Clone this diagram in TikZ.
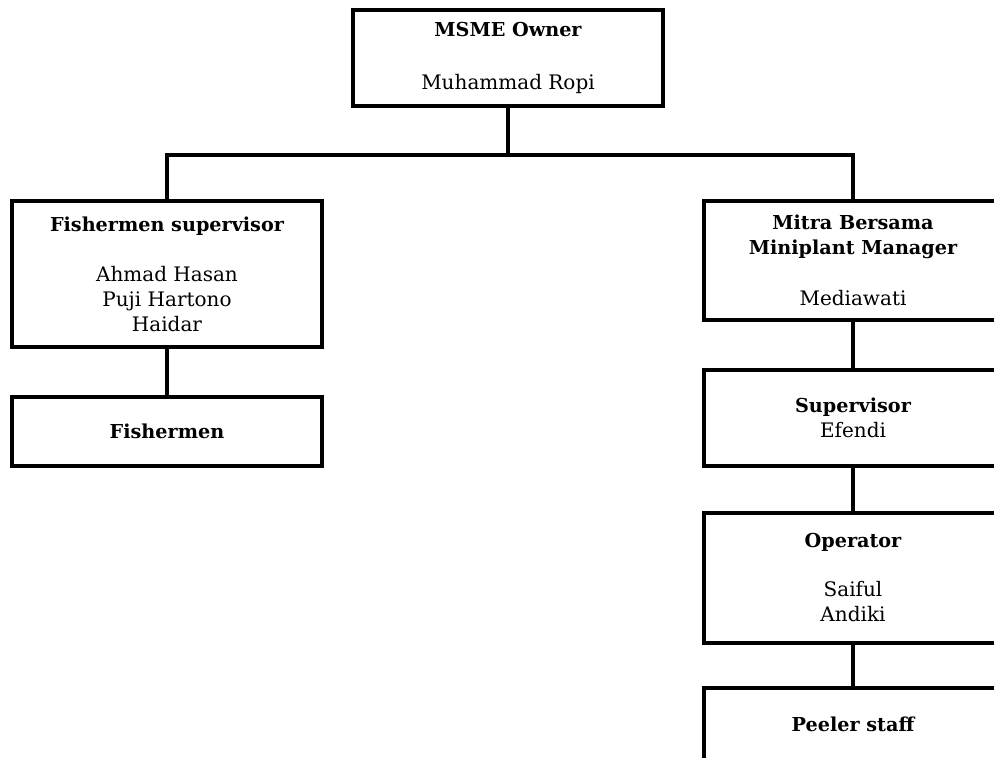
\documentclass[tikz,border=0pt]{standalone}
\usepackage{fontspec}
\setmainfont{DejaVu Serif}
% bold headings are set a touch smaller than the names
\newcommand{\headtxt}[1]{{\fontsize{19.2}{25}\selectfont\bfseries #1}}
\begin{document}
\begin{tikzpicture}[x=1pt,y=-1pt,
  orgbox/.style={draw=black, line width=4pt, fill=white, inner sep=0pt, outer sep=0pt,
    align=center, font=\fontsize{20}{25}\selectfont},
  link/.style={draw=black, line width=4pt}]
\useasboundingbox (0,0) rectangle (994,758);
\clip (0,0) rectangle (994,758);

% top of the hierarchy
\node[orgbox, minimum width=310pt, minimum height=96pt] (owner) at (508,58)
  {\headtxt{MSME Owner}\\[28pt]Muhammad Ropi};

% left branch
\node[orgbox, minimum width=310pt, minimum height=146pt] (fsup) at (167,274)
  {\headtxt{Fishermen supervisor}\\[25pt]Ahmad Hasan\\Puji Hartono\\Haidar};
\node[orgbox, minimum width=310pt, minimum height=69pt] (fish) at (167,431)
  {\headtxt{Fishermen}};

% right branch
\node[orgbox, minimum width=298pt, minimum height=119pt] (mgr) at (853,260.5)
  {\headtxt{Mitra Bersama}\\\headtxt{Miniplant Manager}\\[26pt]Mediawati};
\node[orgbox, minimum width=298pt, minimum height=96pt] (sup) at (853,418)
  {\headtxt{Supervisor}\\Efendi};
\node[orgbox, minimum width=298pt, minimum height=130pt] (oper) at (853,578)
  {\headtxt{Operator}\\[24pt]Saiful\\Andiki};
\node[orgbox, minimum width=298pt, minimum height=72pt] (peel) at (853,724)
  {\headtxt{Peeler staff}};

% connectors
\coordinate (busL) at (167,155);
\coordinate (busR) at (853,155);
\draw[link] (owner.south) -- (owner.south |- busL);
\draw[link] (fsup.north) -- (busL) -- (busR) -- (mgr.north);
\draw[link] (fsup.south) -- (fish.north);
\draw[link] (mgr.south) -- (sup.north);
\draw[link] (sup.south) -- (oper.north);
\draw[link] (oper.south) -- (peel.north);
\end{tikzpicture}
\end{document}
